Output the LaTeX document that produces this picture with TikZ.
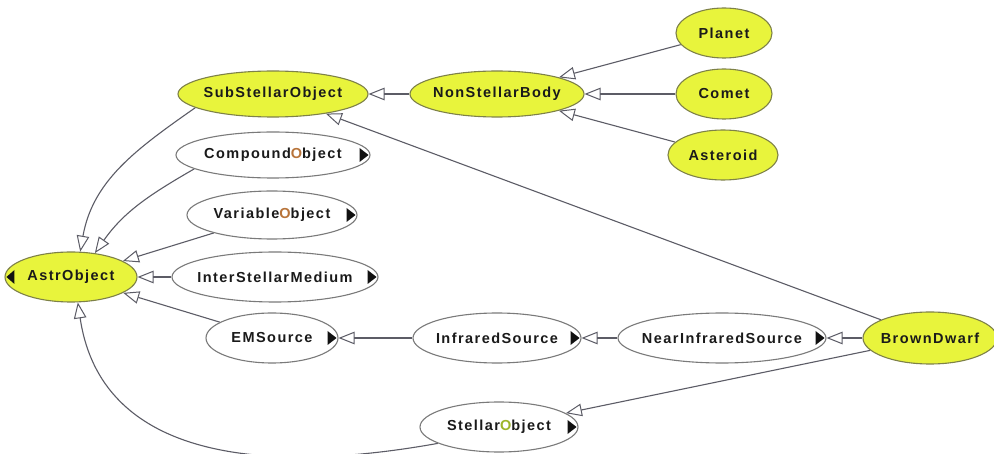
\documentclass[tikz,border=0pt]{standalone}
\usepackage{fontspec}
\setmainfont{Liberation Sans}
\newfontfamily\nodefont[LetterSpace=10]{Liberation Sans}
\usetikzlibrary{shapes.geometric, arrows.meta, backgrounds}

\definecolor{bodyyellow}{HTML}{E8F43C}
\definecolor{yellowrim}{HTML}{7E8148}
\definecolor{plainrim}{HTML}{7A7A7A}
\definecolor{edgegray}{HTML}{5C5C66}
\definecolor{labelink}{HTML}{1A1A1A}
\definecolor{markink}{HTML}{111111}
\definecolor{oorange}{HTML}{B8743A}
\definecolor{ogreen}{HTML}{9DB52A}

\tikzset{
  cls/.style={ellipse, inner sep=0pt, line width=1.1pt, text=labelink,
    font=\nodefont\bfseries\fontsize{14.5}{17}\selectfont},
  known/.style={cls, fill=bodyyellow, draw=yellowrim},
  plain/.style={cls, fill=white, draw=plainrim},
  isa/.style={draw=edgegray, line width=1.1pt,
    -{Triangle[open, length=16pt, width=12.5pt, line width=1pt]}},
}
% label of zero width so the ellipse keeps its given size
\newcommand\lbl[1]{\makebox[0pt]{#1}}
% small black markers for collapsed sub- and superclasses
\newcommand\childtri[1]{\fill[markink] ([xshift=-11pt,yshift=7pt]#1.east) -- ([xshift=-2pt]#1.east) -- ([xshift=-11pt,yshift=-7pt]#1.east) -- cycle;}
\newcommand\parenttri[1]{\fill[markink] ([xshift=2pt]#1.west) -- ([xshift=10pt,yshift=7pt]#1.west) -- ([xshift=10pt,yshift=-7pt]#1.west) -- cycle;}

\begin{document}
\begin{tikzpicture}[x=1pt,y=1pt]
\useasboundingbox (0,0) rectangle (994,-454);

% classes
\node[known, minimum width=190pt, minimum height=46pt] (sso) at (273,-94) {\lbl{SubStellarObject}};
\node[known, minimum width=174pt, minimum height=46pt] (nsb) at (497,-94) {\lbl{NonStellarBody}};
\node[known, minimum width=96pt, minimum height=50pt] (planet) at (724,-33) {\lbl{Planet}};
\node[known, minimum width=96pt, minimum height=50pt] (comet) at (724,-94) {\lbl{Comet}};
\node[known, minimum width=110pt, minimum height=50pt] (asteroid) at (723,-155) {\lbl{Asteroid}};
\node[plain, minimum width=194pt, minimum height=46pt] (co) at (273,-155) {\lbl{Compound\textcolor{oorange}{O}bject}};
\node[plain, minimum width=170pt, minimum height=48pt] (vo) at (272,-215) {\lbl{Variable\textcolor{oorange}{O}bject}};
\node[known, minimum width=132pt, minimum height=50pt] (astr) at (71,-277) {\lbl{AstrObject}};
\node[plain, minimum width=206pt, minimum height=50pt] (ism) at (275,-277) {\lbl{InterStellarMedium}};
\node[plain, minimum width=132pt, minimum height=50pt] (ems) at (272,-338) {\lbl{EMSource}};
\node[plain, minimum width=168pt, minimum height=50pt] (irs) at (497,-338) {\lbl{InfraredSource}};
\node[plain, minimum width=208pt, minimum height=50pt] (nirs) at (722,-338) {\lbl{NearInfraredSource}};
\node[known, minimum width=134pt, minimum height=52pt] (bd) at (930,-338) {\lbl{BrownDwarf}};
\node[plain, minimum width=158pt, minimum height=50pt] (so) at (499,-427) {\lbl{Stellar\textcolor{ogreen}{O}bject}};

% collapsed-branch markers
\childtri{co}
\childtri{vo}
\childtri{ism}
\childtri{ems}
\childtri{irs}
\childtri{nirs}
\childtri{so}
\parenttri{astr}

% subclass links, drawn beneath the classes
\begin{scope}[on background layer]
\fill[white] (0,0) rectangle (994,-454);
\draw[isa] (nsb) -- (sso);
\draw[isa] (planet) -- (nsb);
\draw[isa] (comet) -- (nsb);
\draw[isa] (asteroid) -- (nsb);
\draw[isa] (bd) -- (sso);
\draw[isa] (sso.190) to[out=215,in=80] (astr.70);
\draw[isa] (co.190) to[out=210,in=55] (astr.45);
\draw[isa] (vo) -- (astr);
\draw[isa] (ism) -- (astr);
\draw[isa] (ems) -- (astr);
\draw[isa] (so.195) .. controls +(-150,-27) and +(25,-168) .. (astr.-75);
\draw[isa] (irs) -- (ems);
\draw[isa] (nirs) -- (irs);
\draw[isa] (bd) -- (nirs);
\draw[isa] (bd) -- (so);
\end{scope}
\end{tikzpicture}
\end{document}
